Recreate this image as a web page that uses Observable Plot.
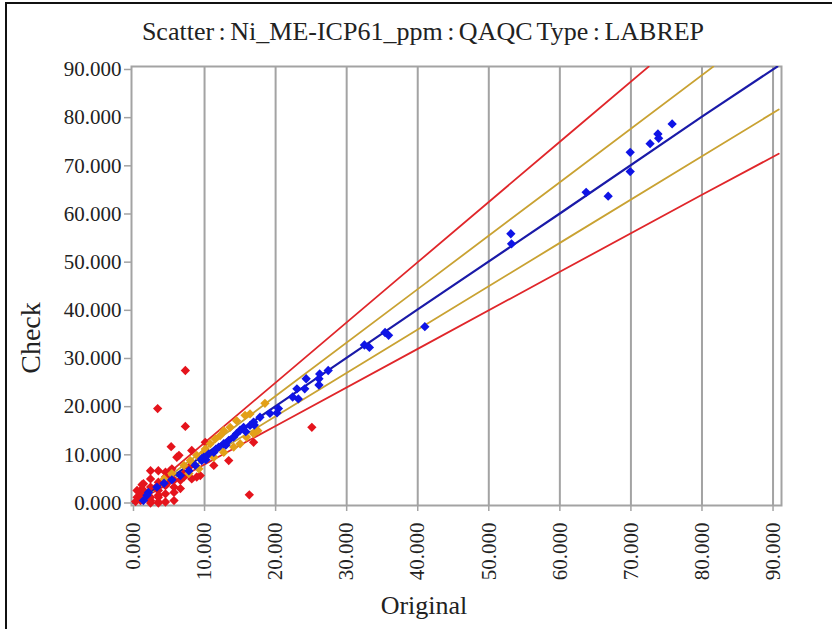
<!DOCTYPE html>
<html>
<head>
<meta charset="utf-8">
<script src="https://cdn.jsdelivr.net/npm/d3@7"></script>
<script src="https://cdn.jsdelivr.net/npm/@observablehq/plot@0.6"></script>
<style>
  html, body { margin: 0; padding: 0; background: #fff; }
  #wrap { position: relative; width: 832px; height: 629px; overflow: hidden; background: #fff; font-family: "Liberation Serif", "Times New Roman", serif; color: #222; }
  #wrap svg { position: absolute; left: 0; top: 0; }
  .txt { position: absolute; white-space: nowrap; line-height: 1; }
  #title { left: 0; width: 846px; text-align: center; top: 19px; font-size: 26px; word-spacing: -2px; }
  #ylab { left: 31px; top: 338px; font-size: 28px; transform: translate(-50%, -50%) rotate(-90deg); }
  #xlab { left: 424px; top: 606px; font-size: 26px; transform: translate(-50%, -50%); }
  #border { position: absolute; left: 5px; top: 2px; width: 900px; height: 700px; border-left: 2px solid #111; border-top: 2px solid #111; }
</style>
</head>
<body>
<div id="wrap">
  <div id="border"></div>
  <div id="title" class="txt">Scatter : Ni_ME-ICP61_ppm : QAQC Type : LABREP</div>
  <div id="ylab" class="txt">Check</div>
  <div id="xlab" class="txt">Original</div>
</div>
<script>
// Tick values
const xTicks = [0, 10, 20, 30, 40, 50, 60, 70, 80, 90];
const yTicks = [0, 10, 20, 30, 40, 50, 60, 70, 80, 90];

// Blue points (within tolerance)
const blueOriginal = [53.1, 53.2, 63.7, 66.8, 69.9, 69.9, 72.7, 73.8, 73.9, 75.8,
  41.0, 35.9, 35.4, 33.2, 32.5, 27.4, 26.2, 26.1, 26.1, 24.3, 24.1, 23.0, 23.2, 22.4, 20.4, 20.2, 19.2,
  17.8, 16.9, 16.4, 15.5, 15.0, 14.5, 14.1, 13.4, 12.7, 12.0, 11.3, 10.6, 9.9, 9.6,
  9.6, 8.7, 7.8, 6.6, 5.4, 4.3, 3.3, 2.1, 1.9, 1.4, 13.0, 15.8, 17.0, 11.6, 10.2];
const blueCheck = [55.9, 53.8, 64.5, 63.7, 72.8, 68.8, 74.6, 76.6, 75.7, 78.7,
  36.6, 34.8, 35.4, 32.3, 32.8, 27.5, 26.8, 25.8, 24.5, 25.8, 23.7, 23.7, 21.6, 22.0, 19.6, 18.7, 18.6,
  17.8, 16.8, 16.1, 15.7, 15.1, 14.4, 13.7, 13.0, 12.3, 11.6, 10.5, 10.2, 9.5, 8.8,
  9.2, 7.8, 6.7, 5.7, 4.8, 4.1, 3.3, 2.2, 1.6, 0.5, 12.0, 14.8, 16.2, 11.2, 9.0];

// Orange points (between 10% and 20%)
const orangeOriginal = [18.5, 16.4, 15.7, 14.5, 13.6, 12.7, 12.2, 11.5, 10.8, 10.1, 9.9, 8.9, 8.0, 7.1, 5.4, 4.3,
  14.1, 15.0, 15.9, 16.9, 12.7, 11.3, 9.2, 7.8, 17.5];
const orangeCheck = [20.7, 18.5, 18.2, 17.1, 15.7, 15.0, 14.0, 13.3, 12.3, 11.2, 10.5, 9.9, 8.8, 7.8, 6.1, 5.0,
  11.6, 12.3, 13.7, 14.4, 10.5, 9.5, 7.1, 6.1, 15.0];

// Red points (outside 20%)
const redOriginal = [7.3, 3.4, 7.3, 5.3, 8.2, 6.1, 6.4, 10.1, 13.4, 11.3, 16.9, 16.3, 25.1,
  5.2, 7.1, 8.2, 9.4, 7.8, 2.4, 3.5, 4.5, 5.4, 7.1, 2.4, 3.5, 2.4, 1.2, 1.0, 1.7, 1.0, 2.4, 3.5, 4.5, 5.7,
  3.5, 4.5, 5.7, 4.5, 5.7, 4.5, 5.7, 0.5, 1.4, 2.4, 3.5, 1.0, 4.7, 6.6, 8.9, 1.4, 3.5, 2.4, 3.5, 6.6, 0.3, 0.5, 1.2];
const redCheck = [27.5, 19.6, 15.9, 11.7, 10.9, 9.5, 9.9, 12.6, 8.8, 7.8, 12.6, 1.7, 15.7,
  6.7, 5.4, 5.0, 5.7, 7.4, 6.7, 6.7, 6.4, 7.1, 6.1, 5.0, 4.3, 3.3, 2.9, 2.2, 1.2, 0.5, 0.5, 0.2, 0.2, 0.5,
  1.6, 1.9, 2.2, 3.6, 3.3, 5.4, 4.7, 1.2, 4.0, 1.2, 1.2, 1.6, 4.0, 4.7, 5.4, 2.6, 2.6, 0.0, 0.0, 3.0, 0.3, 2.6, 3.8];

// Reference lines
const fitX = [0, 20, 40, 60, 80, 90.6];
const fitY = [0, 20.1, 40.2, 60.1, 80.2, 90.6];
const upper10X = [0, 20, 40, 60, 81.6];
const upper10Y = [0, 22.2, 44.4, 66.6, 90.6];
const lower10X = [0, 20, 40, 60, 80, 90.8];
const lower10Y = [0, 18.0, 36.0, 54.0, 72.0, 81.7];
const upper20X = [0, 20, 40, 60, 72.5];
const upper20Y = [0, 25.0, 50.0, 75.0, 90.6];
const lower20X = [0, 20, 40, 60, 80, 90.8];
const lower20Y = [0, 16.0, 32.0, 48.0, 64.0, 72.5];

const pts = (xs, ys) => xs.map((x, i) => ({x, y: ys[i]}));

const gridColor = "#a3a3a3";
const fmt = d3.format(".3f");

const chart = Plot.plot({
  width: 832,
  height: 629,
  marginLeft: 131,
  marginRight: 51,
  marginTop: 66,
  marginBottom: 124,
  style: { fontFamily: "'Liberation Serif', 'Times New Roman', serif", fontSize: "21px", color: "#222", background: "transparent" },
  x: { domain: [-0.28, 91.19], ticks: xTicks, tickFormat: fmt, label: null },
  y: { domain: [-0.52, 90.62], ticks: yTicks, tickFormat: fmt, label: null },
  marks: [
    Plot.gridX(xTicks.filter(d => d > 0), { stroke: gridColor, strokeOpacity: 1, strokeWidth: 2 }),
    Plot.frame({ stroke: gridColor, strokeWidth: 2 }),
    Plot.axisY(yTicks, { tickSize: 7, tickPadding: 3, stroke: gridColor, strokeWidth: 1.5, fill: "#222", tickFormat: fmt, label: null }),
    Plot.axisX(xTicks, { tickSize: 6, tickPadding: 11, tickRotate: -90, stroke: gridColor, strokeWidth: 1.5, fill: "#222", tickFormat: fmt, label: null }),
    Plot.line(pts(lower20X, lower20Y), { x: "x", y: "y", stroke: "#e0262a", strokeWidth: 1.8, clip: true }),
    Plot.line(pts(upper20X, upper20Y), { x: "x", y: "y", stroke: "#e0262a", strokeWidth: 1.8, clip: true }),
    Plot.line(pts(lower10X, lower10Y), { x: "x", y: "y", stroke: "#c9a232", strokeWidth: 1.8, clip: true }),
    Plot.line(pts(upper10X, upper10Y), { x: "x", y: "y", stroke: "#c9a232", strokeWidth: 1.8, clip: true }),
    Plot.line(pts(fitX, fitY), { x: "x", y: "y", stroke: "#1a1aa8", strokeWidth: 2.2, clip: true }),
    Plot.dot(pts(redOriginal, redCheck), { x: "x", y: "y", symbol: "diamond2", r: 4.2, fill: "#e5141c", stroke: "none" }),
    Plot.dot(pts(orangeOriginal, orangeCheck), { x: "x", y: "y", symbol: "diamond2", r: 4.2, fill: "#e3a018", stroke: "none" }),
    Plot.dot(pts(blueOriginal, blueCheck), { x: "x", y: "y", symbol: "diamond2", r: 4.2, fill: "#0f14e6", stroke: "none" })
  ]
});
document.getElementById("wrap").prepend(chart);
</script>
</body>
</html>
